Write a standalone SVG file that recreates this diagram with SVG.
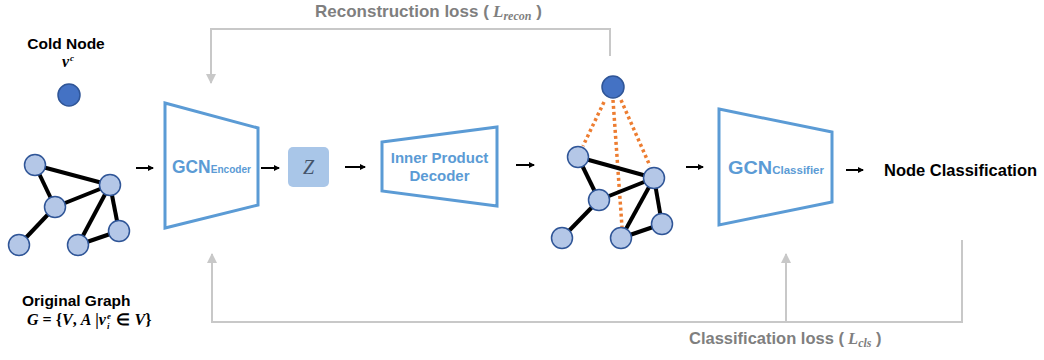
<svg xmlns="http://www.w3.org/2000/svg" width="1044" height="360" viewBox="0 0 1044 360">
<style>
.trap{fill:#fff;stroke:#5b9bd5;stroke-width:3;stroke-linejoin:miter}
.node{fill:#b4c7e7;stroke:#2f5597;stroke-width:1.5}
.cold{fill:#4472c4;stroke:#2f5597;stroke-width:1.5}
.edge{stroke:#000;stroke-width:4}
.dot{stroke:#ed7d31;stroke-width:3.5;stroke-dasharray:3 3;fill:none}
.loss{fill:none;stroke:#c8c8c8;stroke-width:2}
.flow{stroke:#000;stroke-width:2;fill:none}
.lbl{font-family:"Liberation Sans",Arial,sans-serif;font-weight:bold}
.blue{fill:#5b9bd5}
.gray{fill:#7f7f7f}
.math{font-family:"Liberation Serif","Times New Roman",serif;font-style:italic;font-weight:bold}
</style>
<defs>
<marker id="ab" markerWidth="6" markerHeight="6" refX="5" refY="3" orient="auto" markerUnits="userSpaceOnUse"><path d="M0,0 L6,3 L0,6 Z" fill="#000"/></marker>
<marker id="ag" markerWidth="10" markerHeight="10" refX="9" refY="5" orient="auto" markerUnits="userSpaceOnUse"><path d="M0,0 L10,5 L0,10 Z" fill="#c8c8c8"/></marker>
</defs>

<g id="connectors">
  <polyline class="loss" points="610,56 610,29 211,29 211,83" marker-end="url(#ag)"/>
  <polyline class="loss" points="962,240 962,322 212,322 212,254" marker-end="url(#ag)"/>
  <line class="loss" x1="786" y1="322" x2="786" y2="254" marker-end="url(#ag)"/>
  <line class="flow" x1="136" y1="168" x2="153" y2="168" marker-end="url(#ab)"/>
  <line class="flow" x1="261" y1="168" x2="279" y2="168" marker-end="url(#ab)"/>
  <line class="flow" x1="345" y1="167" x2="365" y2="167" marker-end="url(#ab)"/>
  <line class="flow" x1="516" y1="165" x2="534" y2="165" marker-end="url(#ab)"/>
  <line class="flow" x1="686" y1="167" x2="703" y2="167" marker-end="url(#ab)"/>
  <line class="flow" x1="846" y1="170" x2="863" y2="170" marker-end="url(#ab)"/>
</g>

<g id="recon-label">
  <text class="lbl gray" x="315" y="17" font-size="17">Reconstruction loss (<tspan class="math"> L</tspan><tspan class="math" font-size="12" dy="3">recon</tspan><tspan dy="-3"> )</tspan></text>
</g>

<g id="cold-node">
  <text class="lbl" x="66" y="49" font-size="15.5" text-anchor="middle" fill="#000">Cold Node</text>
  <text class="math" x="62" y="67" font-size="16" fill="#000">v<tspan font-size="9" dx="1" dy="-6">c</tspan></text>
  <circle class="cold" cx="69" cy="95" r="11"/>
</g>

<g id="original-graph">
  <line class="edge" x1="35" y1="165" x2="110" y2="185"/>
  <line class="edge" x1="35" y1="165" x2="55" y2="207"/>
  <line class="edge" x1="55" y1="207" x2="110" y2="185"/>
  <line class="edge" x1="55" y1="207" x2="19" y2="245"/>
  <line class="edge" x1="110" y1="185" x2="78" y2="245"/>
  <line class="edge" x1="110" y1="185" x2="119" y2="231"/>
  <line class="edge" x1="78" y1="245" x2="119" y2="231"/>
  <circle class="node" cx="35" cy="165" r="10.5"/>
  <circle class="node" cx="110" cy="185" r="10.5"/>
  <circle class="node" cx="55" cy="207" r="10.5"/>
  <circle class="node" cx="19" cy="245" r="10.5"/>
  <circle class="node" cx="78" cy="245" r="10.5"/>
  <circle class="node" cx="119" cy="231" r="10.5"/>
  <text class="lbl" x="22" y="306" font-size="15.5" fill="#000">Original Graph</text>
  <text class="math" x="27" y="325" font-size="16" fill="#000">G<tspan font-style="normal"> = {</tspan>V<tspan font-style="normal">, </tspan>A<tspan font-style="normal"> |</tspan>v<tspan font-size="9" dx="1" dy="-6">e</tspan><tspan font-size="9" dx="-4" dy="10">i</tspan><tspan dx="3" dy="-4" font-style="normal"> ∈ </tspan>V<tspan font-style="normal">}</tspan></text>
</g>

<g id="encoder">
  <polygon class="trap" points="165,103 258,128 258,205 165,228"/>
  <text class="lbl blue" x="172" y="173" font-size="19" textLength="79" lengthAdjust="spacingAndGlyphs">GCN<tspan font-size="11">Encoder</tspan></text>
</g>

<g id="z">
  <rect x="288" y="147" width="41" height="40" rx="5" fill="#a9c6e8"/>
  <text x="308.5" y="174" font-size="20" font-family="'Liberation Serif',serif" font-style="italic" fill="#44546a" text-anchor="middle">Z</text>
</g>

<g id="decoder">
  <polygon class="trap" points="382,142 497,127 497,206 382,191"/>
  <text class="lbl blue" x="439.5" y="163" font-size="15" text-anchor="middle">Inner Product</text>
  <text class="lbl blue" x="439.5" y="181" font-size="15" text-anchor="middle">Decoder</text>
</g>

<g id="reconstructed-graph">
  <line class="dot" x1="604" y1="102" x2="583" y2="146"/>
  <line class="dot" x1="613" y1="100" x2="622" y2="227"/>
  <line class="dot" x1="621" y1="100" x2="650" y2="166"/>
  <line class="edge" x1="578" y1="157" x2="654" y2="178"/>
  <line class="edge" x1="578" y1="157" x2="599" y2="200"/>
  <line class="edge" x1="599" y1="200" x2="654" y2="178"/>
  <line class="edge" x1="599" y1="200" x2="562" y2="238"/>
  <line class="edge" x1="654" y1="178" x2="621" y2="238"/>
  <line class="edge" x1="654" y1="178" x2="662" y2="224"/>
  <line class="edge" x1="621" y1="238" x2="662" y2="224"/>
  <circle class="cold" cx="613" cy="87" r="11"/>
  <circle class="node" cx="578" cy="157" r="10.5"/>
  <circle class="node" cx="654" cy="178" r="10.5"/>
  <circle class="node" cx="599" cy="200" r="10.5"/>
  <circle class="node" cx="562" cy="238" r="10.5"/>
  <circle class="node" cx="621" cy="238" r="10.5"/>
  <circle class="node" cx="662" cy="224" r="10.5"/>
</g>

<g id="classifier">
  <polygon class="trap" points="719,109 832,132 832,202 719,225"/>
  <text class="lbl blue" x="728" y="174" font-size="19" textLength="96" lengthAdjust="spacingAndGlyphs">GCN<tspan font-size="11">Classifier</tspan></text>
</g>

<g id="node-classification">
  <text class="lbl" x="884" y="176" font-size="16.5" fill="#000">Node Classification</text>
</g>

<g id="cls-label">
  <text class="lbl gray" x="689" y="344" font-size="16.5">Classification loss (<tspan class="math"> L</tspan><tspan class="math" font-size="12" dy="3">cls</tspan><tspan dy="-3"> )</tspan></text>
</g>
</svg>
